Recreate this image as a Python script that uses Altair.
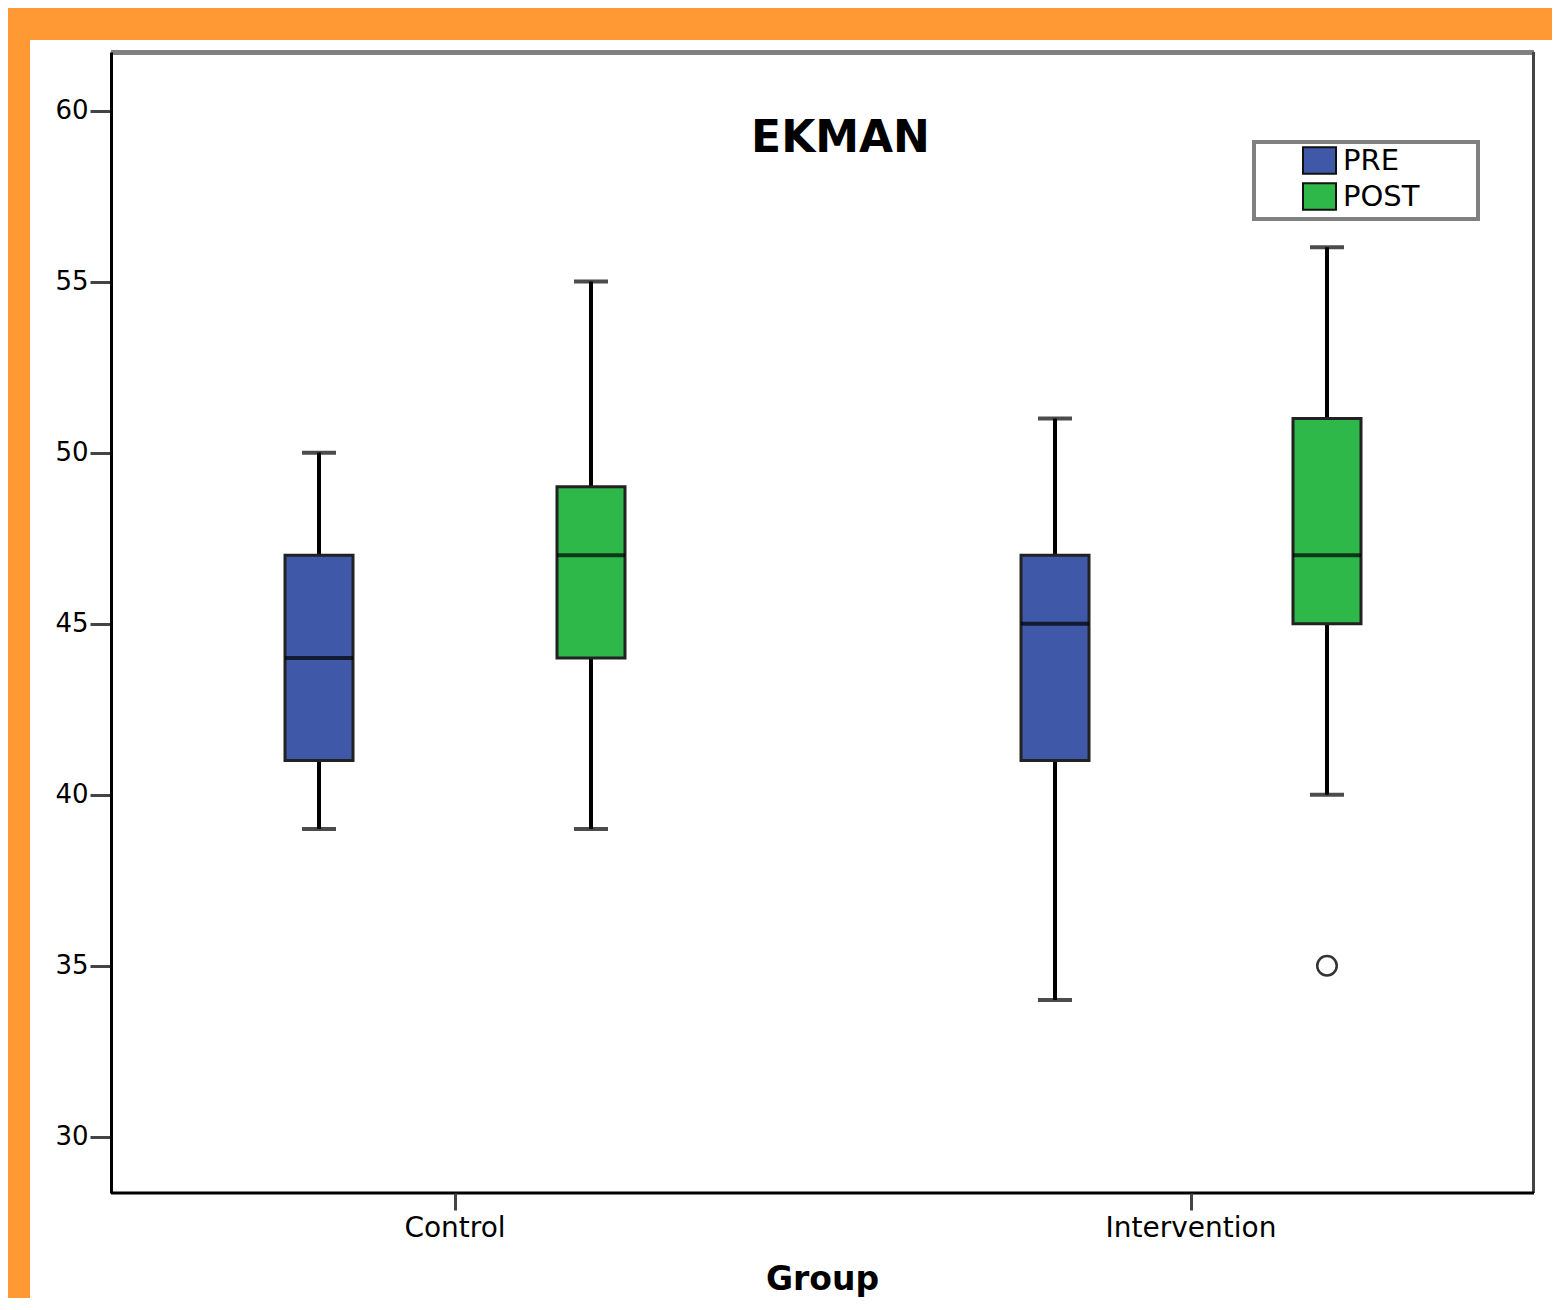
import altair as alt
import pandas as pd

groups = ["Control", "Intervention"]
series = ["PRE", "POST"]
box_group = ["Control", "Control", "Intervention", "Intervention"]
box_series = ["PRE", "POST", "PRE", "POST"]
low = [39, 39, 34, 40]
q1 = [41, 44, 41, 45]
median = [44, 47, 45, 47]
q3 = [47, 49, 47, 51]
high = [50, 55, 51, 56]
out_group = ["Intervention"]
out_series = ["POST"]
out_value = [35]
colors = ["#3F58A8", "#2EB84A"]
y_ticks = [30, 35, 40, 45, 50, 55, 60]

FONT = "DejaVu Sans"
W, H = 1423, 1141

df = pd.DataFrame({"group": box_group, "series": box_series, "low": low,
                   "q1": q1, "median": median, "q3": q3, "high": high})
dfo = pd.DataFrame({"group": out_group, "series": out_series, "value": out_value})

xs = alt.Scale(domain=groups, range=[-24, 1448], paddingInner=0, paddingOuter=0)
xos = alt.Scale(domain=series, paddingOuter=0.353, paddingInner=0)
ys = alt.Scale(domain=[28.36, 61.71], nice=False, zero=False)

x_enc = alt.X("group:N", scale=xs, sort=groups,
              axis=alt.Axis(title="Group", labelAngle=0, labelFontSize=28, labelColor="black",
                            labelPadding=4, tickSize=17, tickWidth=3, tickColor="#444",
                            domain=False, titleFontSize=33, titleFontWeight="bold",
                            titleColor="black", titleY=96, titleX=711,
                            titleBaseline="alphabetic", zindex=2))
xo_enc = alt.XOffset("series:N", scale=xos, sort=series)
y_axis = alt.Axis(values=y_ticks, title=None, labelFontSize=26, labelColor="black",
                  labelPadding=2, tickSize=21, tickWidth=3, tickColor="#444",
                  domainColor="black", domainWidth=3, grid=False, zindex=2)

one = pd.DataFrame({"a": [0]})

bg = alt.Chart(one).mark_rect(color="white").encode(
    x=alt.value(-81), x2=alt.value(1460), y=alt.value(-12), y2=alt.value(1300))

base = alt.Chart(df)

whisk_hi = base.mark_rule(color="black", strokeWidth=4).encode(
    x=x_enc, xOffset=xo_enc, y=alt.Y("q3:Q", scale=ys, axis=y_axis), y2="high:Q")
whisk_lo = base.mark_rule(color="black", strokeWidth=4).encode(
    x=x_enc, xOffset=xo_enc, y=alt.Y("low:Q", scale=ys), y2="q1:Q")
cap_hi = base.mark_tick(color="black", size=34, thickness=4).encode(
    x=x_enc, xOffset=xo_enc, y=alt.Y("high:Q", scale=ys))
cap_lo = base.mark_tick(color="black", size=34, thickness=4).encode(
    x=x_enc, xOffset=xo_enc, y=alt.Y("low:Q", scale=ys))
boxes = base.mark_bar(size=68, stroke="#222", strokeWidth=3).encode(
    x=x_enc, xOffset=xo_enc, y=alt.Y("q1:Q", scale=ys), y2="q3:Q",
    color=alt.Color("series:N", scale=alt.Scale(domain=series, range=colors), sort=series,
                    legend=alt.Legend(title=None, orient="none", legendX=1191, legendY=91,
                                      padding=0, rowPadding=1, labelFontSize=29,
                                      labelColor="black", labelOffset=6,
                                      symbolType="M-1,-0.8H1V0.8H-1Z", symbolSize=1089,
                                      symbolStrokeColor="#111", symbolStrokeWidth=2)))
meds = base.mark_tick(color="black", size=68, thickness=4).encode(
    x=x_enc, xOffset=xo_enc, y=alt.Y("median:Q", scale=ys))
outl = alt.Chart(dfo).mark_point(shape="circle", size=380, filled=False, color="#333",
                                 strokeWidth=2.5, opacity=1).encode(
    x=x_enc, xOffset=xo_enc, y=alt.Y("value:Q", scale=ys))

legend_box = alt.Chart(one).mark_rect(fill="white", stroke="#808080", strokeWidth=4).encode(
    x=alt.value(1143), x2=alt.value(1367), y=alt.value(90), y2=alt.value(167))

title_df = pd.DataFrame({"t": ["EKMAN"]})
title = alt.Chart(title_df).mark_text(fontSize=44, fontWeight="bold", color="black",
                                      align="center", baseline="alphabetic").encode(
    text="t:N", x=alt.value(729.5), y=alt.value(100))

top_rule = alt.Chart(one).mark_rule(color="#808080", strokeWidth=5).encode(
    x=alt.value(0), x2=alt.value(W), y=alt.value(0.5))
right_rule = alt.Chart(one).mark_rule(color="#444", strokeWidth=3).encode(
    x=alt.value(W - 0.5), y=alt.value(0), y2=alt.value(H))
bottom_rule = alt.Chart(one).mark_rule(color="black", strokeWidth=3).encode(
    x=alt.value(0), x2=alt.value(W), y=alt.value(H))

chart = alt.layer(bg, legend_box, title, whisk_hi, whisk_lo, cap_hi, cap_lo, boxes, meds, outl,
                  top_rule, right_rule, bottom_rule).properties(
    width=W, height=H, background="#FF9933",
    autosize=alt.AutoSizeParams(type="none"),
    padding={"left": 103, "top": 44, "right": 18, "bottom": 105},
).configure(font=FONT).configure_view(stroke=None, fill=None)

chart.save("out.html", embed_options={"renderer": "svg", "actions": False})
